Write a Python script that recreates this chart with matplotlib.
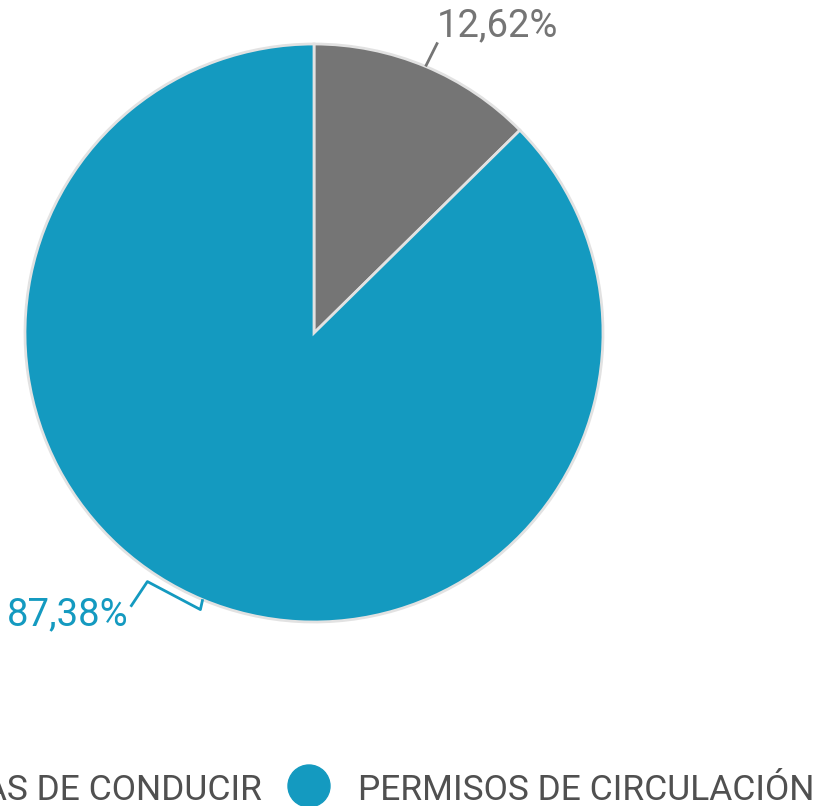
import numpy as np
import matplotlib
matplotlib.use("Agg")
import matplotlib.pyplot as plt
from matplotlib.patches import Circle

# Data
categories = ["LICENCIAS DE CONDUCIR", "PERMISOS DE CIRCULACIÓN"]
values = [12.62, 87.38]
labels = ["12,62%", "87,38%"]
colors = ["#757575", "#149ac0"]

W, H = 827, 806
fig = plt.figure(figsize=(W / 100, H / 100), dpi=100)
ax = fig.add_axes([0, 0, 1, 1])

# pie geometry in pixel coords (y measured from the top)
cx, cy, r = 314, 333, 289

ax.pie(values, colors=colors, startangle=90, counterclock=False,
       center=(cx, H - cy), radius=r,
       wedgeprops=dict(edgecolor="#e2e2e2", linewidth=2))
ax.set_xlim(0, W)
ax.set_ylim(0, H)
ax.set_aspect("equal")
ax.axis("off")

# mid angles of slices
fr = np.array(values) / sum(values)
start = 90 - np.concatenate([[0], np.cumsum(fr)[:-1]]) * 360
mid = np.deg2rad(start - fr * 180)

# label 1 (gray)
ex, ey = cx + r * np.cos(mid[0]), H - cy + r * np.sin(mid[0])
ax.plot([ex, ex + 12], [ey, ey + 24], color=colors[0], lw=2, solid_capstyle="butt")
ax.text(ex + 11, ey + 22, labels[0], color=colors[0], fontsize=27.5,
        family="Roboto", ha="left", va="bottom")

# label 2 (blue)
ex, ey = cx + r * np.cos(mid[1]), H - cy + r * np.sin(mid[1])
ax.plot([ex, ex - 2, ex - 55, ex - 71], [ey - 1, ey - 10, ey + 18, ey - 6],
        color=colors[1], lw=2)
ax.text(ex - 74, ey + 3, labels[1], color=colors[1], fontsize=27.5,
        family="Roboto", ha="right", va="top")

# legend (first entry runs off the left edge, as in the source)
ax.add_patch(Circle((-45, H - 786), 21, color=colors[0], clip_on=False))
ax.text(262, H - 800, categories[0], color="#505050", fontsize=25.5,
        family="Roboto", ha="right", va="baseline")
ax.add_patch(Circle((309, H - 786), 21, color=colors[1], clip_on=False))
ax.text(358, H - 800, categories[1], color="#505050", fontsize=25.5,
        family="Roboto", ha="left", va="baseline")

fig.savefig("out.png", dpi=100)
